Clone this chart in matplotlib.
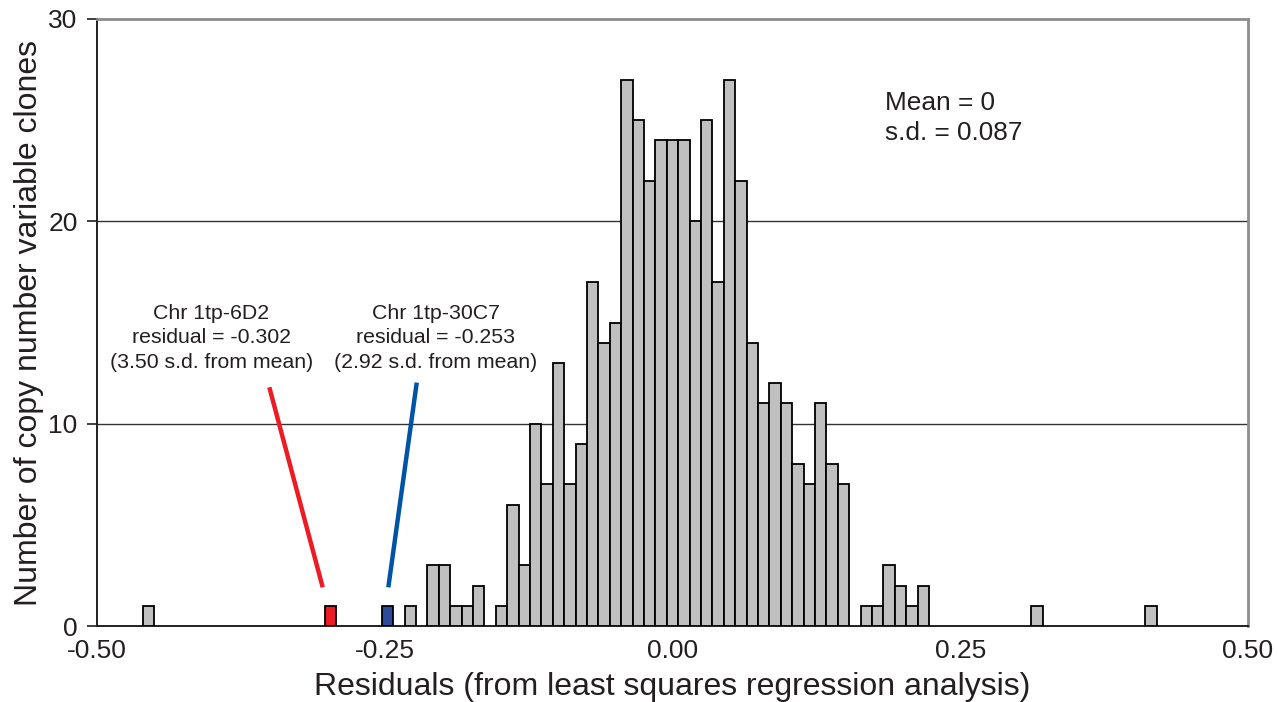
import numpy as np
import matplotlib
matplotlib.use("Agg")
import matplotlib.pyplot as plt

plt.rcParams["font.family"] = ["Liberation Sans", "DejaVu Sans"]

TXT = "#231f20"
GRIS = "#c0c0c0"
VERMELHO = "#ed1c24"
AZUL_BARRA = "#2e4a9b"
AZUL_LINHA = "#0054a6"

# ---------------------------------------------------------------- dados
# contagem de clones por classe de resíduo (101 classes de -0.5 a 0.5)
bin_start = -0.5
bin_width = 1.0 / 101
counts = [
    0, 0, 0, 0, 1, 0, 0, 0, 0, 0,
    0, 0, 0, 0, 0, 0, 0, 0, 0, 0,
    1, 0, 0, 0, 0, 1, 0, 1, 0, 3,
    3, 1, 1, 2, 0, 1, 6, 3, 10, 7,
    13, 7, 9, 17, 14, 15, 27, 25, 22, 24,
    24, 24, 20, 25, 17, 27, 22, 14, 11, 12,
    11, 8, 7, 11, 8, 7, 0, 1, 1, 3,
    2, 1, 2, 0, 0, 0, 0, 0, 0, 0,
    0, 0, 1, 0, 0, 0, 0, 0, 0, 0,
    0, 0, 1, 0, 0, 0, 0, 0, 0, 0,
    0,
]
# classes destacadas: clone -> (índice da classe, cor)
destaques = {"Chr 1tp-6D2": (20, VERMELHO), "Chr 1tp-30C7": (25, AZUL_BARRA)}
rotulos = {
    "Chr 1tp-6D2": "Chr 1tp-6D2\nresidual = -0.302\n(3.50 s.d. from mean)",
    "Chr 1tp-30C7": "Chr 1tp-30C7\nresidual = -0.253\n(2.92 s.d. from mean)",
}
x_ticks = [-0.50, -0.25, 0.00, 0.25, 0.50]
x_ticklabels = ["-0.50", "-0.25", "0.00", "0.25", "0.50"]
y_ticks = [0, 10, 20, 30]

# ---------------------------------------------------------------- figura
fig = plt.figure(figsize=(12.78, 7.02), dpi=100)
ax = fig.add_axes([97 / 1278, 1 - 626 / 702, 1151 / 1278, 607 / 702])

counts = np.array(counts)
lefts = bin_start + np.arange(len(counts)) * bin_width
cores = [GRIS] * len(counts)
for nome, (k, c) in destaques.items():
    cores[k] = c
mask = counts > 0
ax.bar(lefts[mask], counts[mask], width=bin_width, align="edge",
       color=[c for c, m in zip(cores, mask) if m], edgecolor="black",
       linewidth=1.3, zorder=3)

ax.set_xlim(-0.5, 0.5)
ax.set_ylim(0, 30)
ax.set_xticks(x_ticks)
ax.set_xticklabels(x_ticklabels)
ax.set_yticks(y_ticks)
ax.tick_params(axis="x", length=0, pad=9, labelsize=19, labelcolor=TXT)
ax.tick_params(axis="y", length=7, width=1.2, pad=7, labelsize=19,
               labelcolor=TXT, color=TXT)
for y in (10, 20):
    ax.axhline(y, color="#333333", lw=1.0, zorder=1)

for s in ("left", "bottom"):
    ax.spines[s].set_color(TXT)
    ax.spines[s].set_linewidth(1.4)
for s in ("top", "right"):
    ax.spines[s].set_color("#8c8c8c")
    ax.spines[s].set_linewidth(2.0)

ax.set_xlabel("Residuals (from least squares regression analysis)",
              fontsize=23, color=TXT, labelpad=7)
ax.set_ylabel("Number of copy number variable clones", fontsize=23,
              color=TXT, labelpad=3)

# anotações
ax.text(-0.4005, 14.24, rotulos["Chr 1tp-6D2"], ha="center", va="center",
        fontsize=15.3, color=TXT, linespacing=1.36)
ax.text(-0.2055, 14.24, rotulos["Chr 1tp-30C7"], ha="center", va="center",
        fontsize=15.3, color=TXT, linespacing=1.36)
ax.plot([-0.3503, -0.3039], [11.80, 1.91], color=VERMELHO, lw=3.2,
        solid_capstyle="butt", zorder=4)
ax.plot([-0.2222, -0.2469], [12.03, 1.91], color=AZUL_LINHA, lw=3.2,
        solid_capstyle="butt", zorder=4)

ax.text(0.1846, 25.1, "Mean = 0\ns.d. = 0.087", ha="left", va="center",
        fontsize=18.9, color=TXT, linespacing=1.3)

fig.savefig("out.png", dpi=100)
